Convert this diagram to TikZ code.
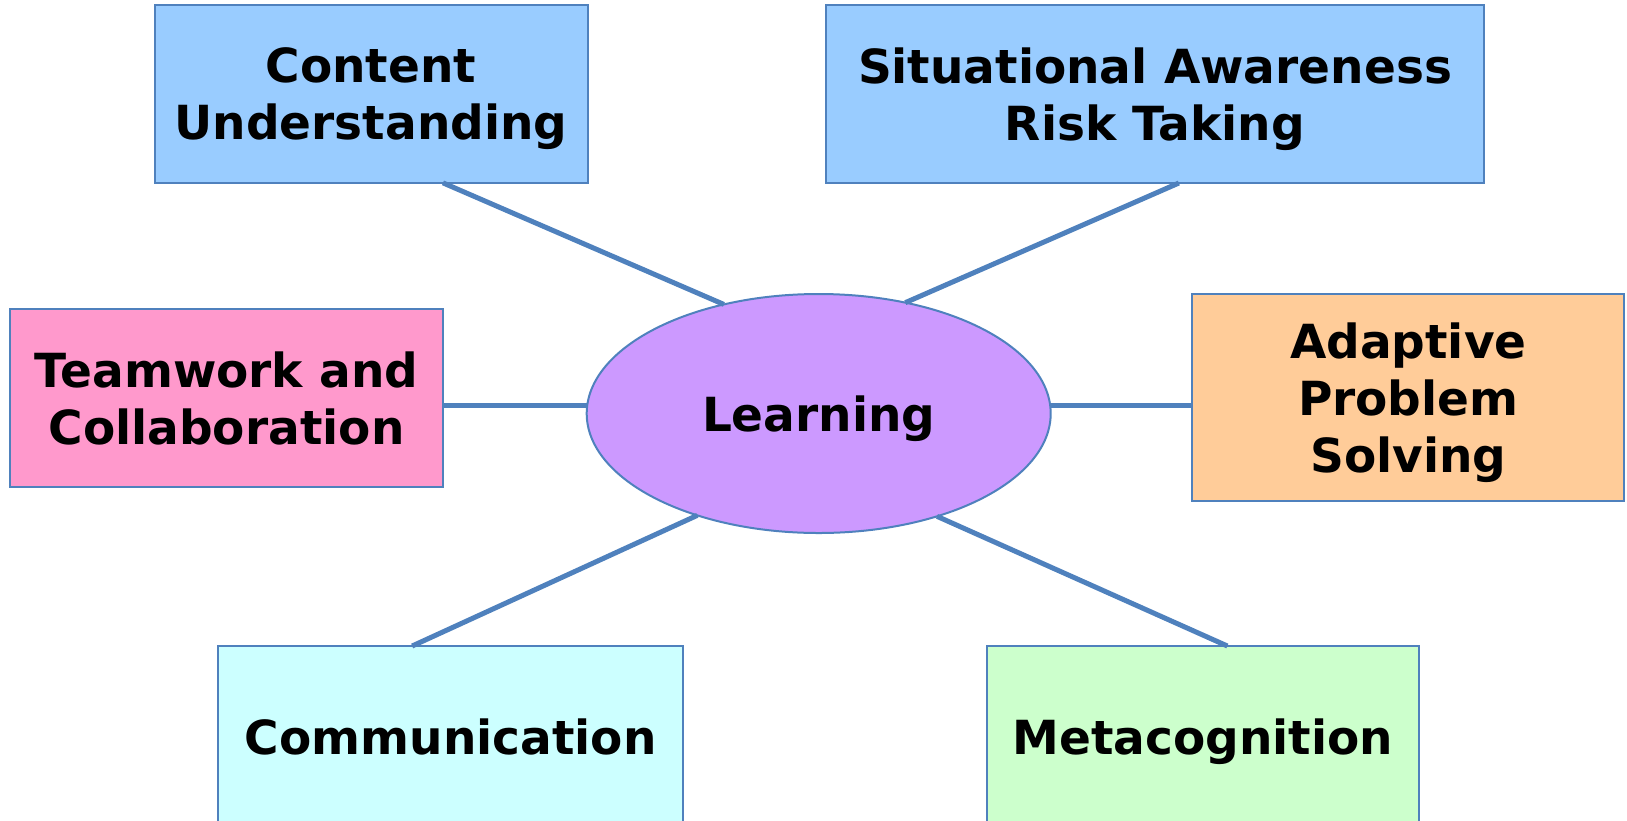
\documentclass[tikz,border=0pt]{standalone}
\usepackage{fontspec}
\setmainfont{DejaVu Sans}
\usetikzlibrary{shapes.geometric}
\definecolor{edgeblue}{HTML}{4F81BD}
\definecolor{skyfill}{HTML}{99CCFF}
\definecolor{pinkfill}{HTML}{FF99CC}
\definecolor{peachfill}{HTML}{FFCC99}
\definecolor{cyanfill}{HTML}{CCFFFF}
\definecolor{mintfill}{HTML}{CCFFCC}
\definecolor{lilacfill}{HTML}{CC99FF}
% last line without its descender, so the text sits as in the slide
\newcommand{\flatline}[1]{\raisebox{0pt}[\height][0pt]{#1}}
\begin{document}
\begin{tikzpicture}[x=0.5pt, y=-0.5pt,
    topic/.style={draw=edgeblue, line width=1pt, rectangle, align=center, inner sep=0pt, outer sep=0pt, font=\fontsize{23.5}{28.5}\selectfont\bfseries},
    hub/.style={draw=edgeblue, line width=1pt, ellipse, inner sep=0pt, outer sep=0pt, font=\fontsize{23.5}{28.5}\selectfont\bfseries},
    link/.style={draw=edgeblue, line width=2.5pt}]
        \useasboundingbox (0,0) rectangle (1627,820) ;
        % centre
        \node[hub, fill=lilacfill, minimum width=232pt, minimum height=119.5pt] (learn) at (818.7,413.5) {\flatline{Learning}} ;
        % the six topics
        \node[topic, fill=skyfill, minimum width=216.5pt, minimum height=88.85pt] (content) at (371,94) {Content\\\flatline{Understanding}} ;
        \node[topic, fill=skyfill, minimum width=329pt, minimum height=89pt] (aware) at (1155,94) {Situational Awareness\\\flatline{Risk Taking}} ;
        \node[topic, fill=pinkfill, minimum width=216.75pt, minimum height=88.7pt] (team) at (226.5,398) {Teamwork and\\Collaboration} ;
        \node[topic, fill=peachfill, minimum width=216pt, minimum height=103.5pt] (adapt) at (1408.3,397.5) {Adaptive\\Problem\\\flatline{Solving}} ;
        \node[topic, fill=cyanfill, minimum width=232.5pt, minimum height=91pt] (comm) at (450.8,737) {Communication} ;
        \node[topic, fill=mintfill, minimum width=216.3pt, minimum height=91pt] (meta) at (1203,737) {\flatline{Metacognition}} ;
        % spokes
        \draw[link] (learn.131.35) -- (content.-51.05) ;
        \draw[link] (learn.52.33) -- (aware.-75.4) ;
        \draw[link] (team.-2.1) -- (team.-2.1 -| learn.west) ;
        \draw[link] (adapt.182.25) -- (adapt.182.25 -| learn.east) ;
        \draw[link] (learn.220.6) -- (comm.113.3) ;
        \draw[link] (learn.319.45) -- (meta.75.8) ;
\end{tikzpicture}
\end{document}
